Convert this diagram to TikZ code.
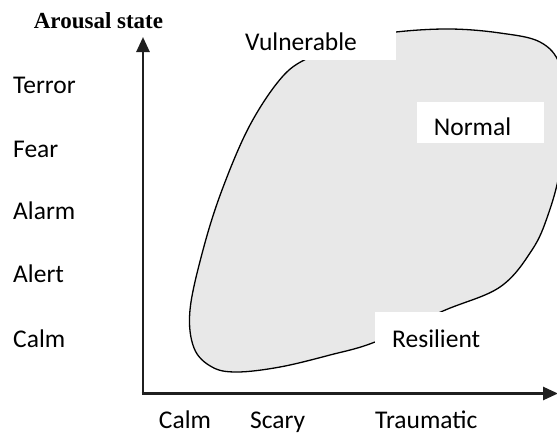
\documentclass[tikz,border=0pt]{standalone}
\usepackage{fontspec}
\setmainfont{Carlito}
\newfontfamily\headfont{Liberation Serif}
\usetikzlibrary{arrows.meta}
\definecolor{zonegray}{HTML}{E8E8E8}
\begin{document}
\begin{tikzpicture}[x=1pt,y=-1pt,
  lbl/.style={font=\fontsize{25.5}{30}\selectfont, inner sep=0pt},
  axisline/.style={line width=2.6pt, color=black!88, -{Triangle[length=15pt,width=13pt]}},
  zone/.style={fill=zonegray, draw=black, line width=1.3pt},
  mask/.style={fill=white, draw=none}]
\useasboundingbox (0,0) rectangle (557,434);

% arousal zone
\draw[zone] plot[smooth cycle, tension=0.6] coordinates {
  (283,76) (250,125) (222,190) (203,250) (190,310) (194,348) (212,367)
  (237,372) (280,367) (330,355) (375,342) (443,311) (500,287) (532,250)
  (548,215) (560,170) (566,110) (560,65) (540,42) (500,33) (450,29)
  (396,32) (350,40) (312,56)};

% label patches over the outline
\fill[mask] (232,20) rectangle (396,60);
\fill[mask] (417,102) rectangle (544,143);
\fill[mask] (375,312) rectangle (492,360);

\node[lbl, anchor=base west] (vul) at (245,50) {Vulnerable};
\node[lbl, anchor=base] (nor) at (472.5,135) {Normal};
\node[lbl, anchor=base west] (res) at (392,347) {Resilient};

% axes
\coordinate (origin) at (143,393.5);
\coordinate (ytip) at (143,37);
\coordinate (xtip) at (558,393.5);
\coordinate (xstart) at (141.7,393.5);
\draw[axisline] (origin) -- (ytip);
\draw[axisline] (xstart) -- (xtip);

\node[font=\headfont\bfseries\fontsize{23}{28}\selectfont, inner sep=0pt, anchor=base] (ttl) at (98.5,28) {Arousal state};

% arousal levels
\node[lbl, anchor=base west] (terror) at (13,93) {Terror};
\node[lbl, anchor=base west] (fear) at (13,157) {Fear};
\node[lbl, anchor=base west] (alarm) at (13,219) {Alarm};
\node[lbl, anchor=base west] (alert) at (13,282) {Alert};
\node[lbl, anchor=base west] (calmy) at (13,347) {Calm};

% event types
\node[lbl, anchor=base] (calmx) at (185,428) {Calm};
\node[lbl, anchor=base west] (scary) at (250,428) {Scary};
\node[lbl, anchor=base west] (trauma) at (375,428) {Traumatic};
\end{tikzpicture}
\end{document}
